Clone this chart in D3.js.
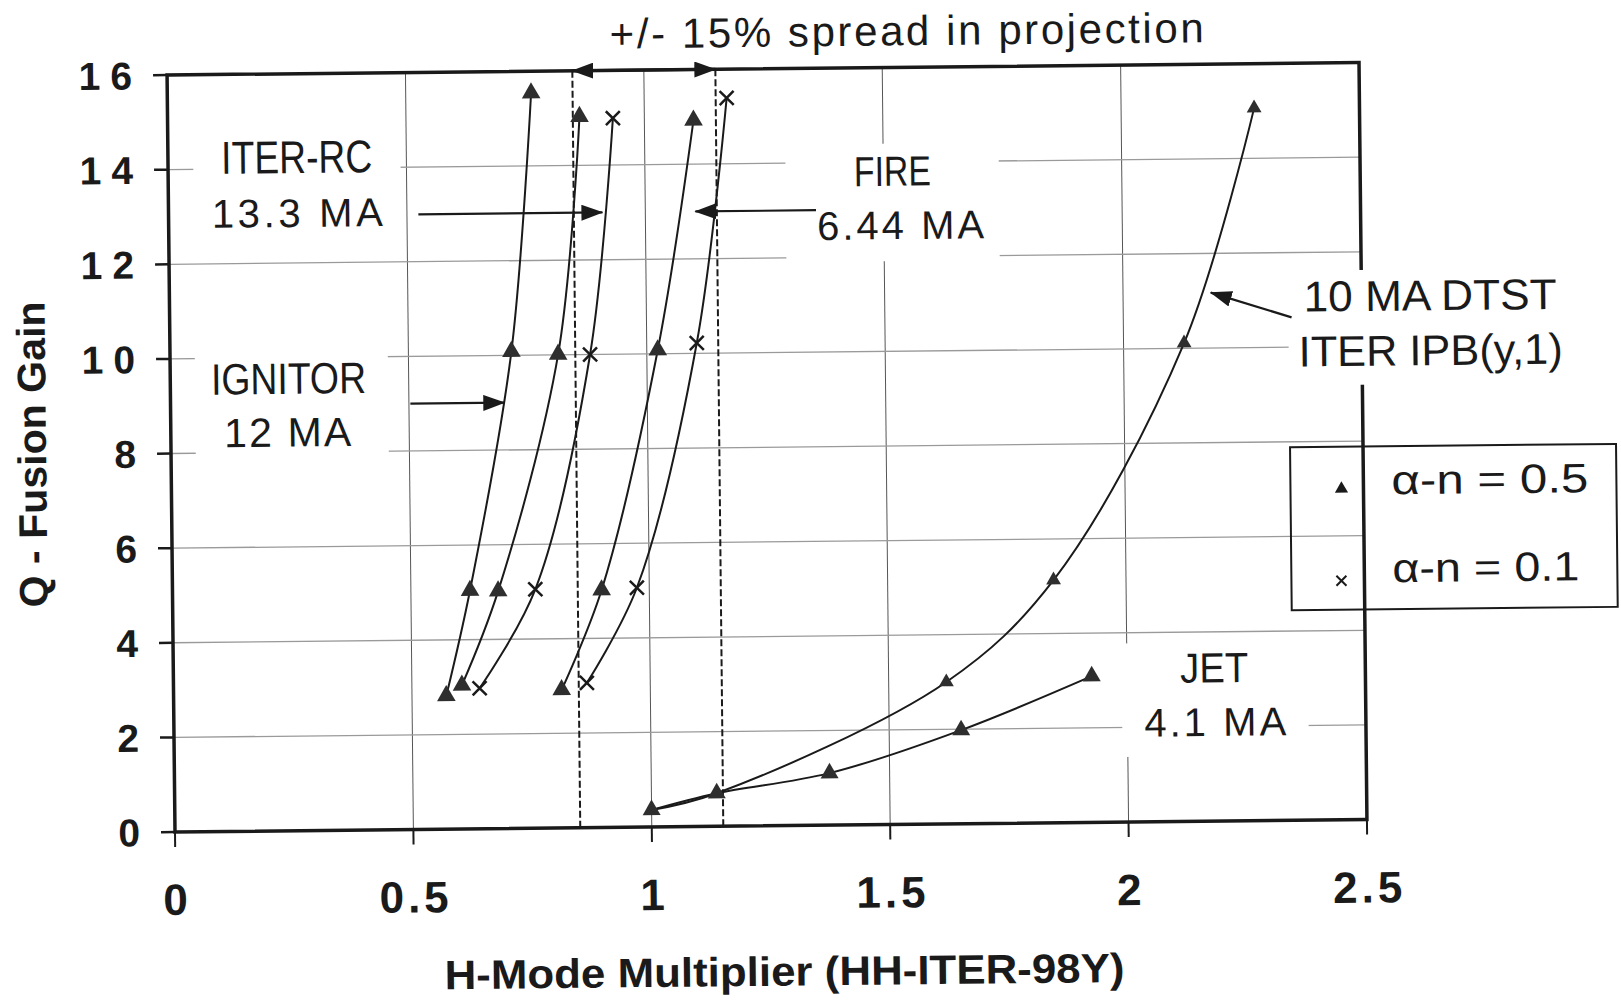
<!DOCTYPE html>
<html><head><meta charset="utf-8">
<script src="https://cdn.jsdelivr.net/npm/d3@7"></script>
<style>
html,body{margin:0;padding:0;background:#fff;}
svg{display:block;}
text{font-family:"Liberation Sans",Arial,Helvetica,sans-serif;fill:#1a1a1a;}
</style></head><body>
<svg id="chart" width="1621" height="1000"></svg>
<script>
// ---------- data ----------
const xTicks = [0, 0.5, 1, 1.5, 2, 2.5];
const xTickLabels = ["0", "0.5", "1", "1.5", "2", "2.5"];
const yTicks = [0, 2, 4, 6, 8, 10, 12, 14, 16];
const yTickLabels = ["0", "2", "4", "6", "8", "10", "12", "14", "16"];

// H-mode multiplier (x) and Q fusion gain (y), per machine and alpha-n
const ignitorH = [0.572, 0.624, 0.716, 0.763];
const ignitorQ = [2.82, 5.04, 10.08, 15.54];
const iterRcH05 = [0.605, 0.683, 0.814, 0.864];
const iterRcQ05 = [3.04, 5.02, 10.01, 15.03];
const iterRcH01 = [0.642, 0.761, 0.881, 0.934];
const iterRcQ01 = [2.97, 5.05, 10.00, 14.99];
const fireH05 = [0.814, 0.900, 1.023, 1.103];
const fireQ05 = [2.92, 5.02, 10.08, 14.93];
const fireH01 = [0.867, 0.974, 1.105, 1.173];
const fireQ01 = [3.06, 5.06, 10.22, 15.39];
const dtstH = [1.0, 1.137, 1.621, 1.848, 2.127, 2.279];
const dtstQ = [0.36, 0.70, 3.00, 5.13, 10.11, 15.06];
const jetH = [1.0, 1.137, 1.374, 1.651, 1.926];
const jetQ = [0.36, 0.70, 1.10, 1.98, 3.09];

const seriesNames = ["IGNITOR a0.5", "ITER-RC a0.5", "ITER-RC a0.1", "FIRE a0.5", "FIRE a0.1", "DTST a0.5", "JET a0.5"];
const seriesH = [ignitorH, iterRcH05, iterRcH01, fireH05, fireH01, dtstH, jetH];
const seriesQ = [ignitorQ, iterRcQ05, iterRcQ01, fireQ05, fireQ01, dtstQ, jetQ];
const seriesMarker = ["tri", "tri", "x", "tri", "x", "tri", "tri"];

// +/- 15% band around HH = 1
const spreadBounds = [0.85, 1.15];

// annotation arrows (data units): from -> tip
const arrowFromH = [0.524, 0.503, 1.358, 2.353];
const arrowFromQ = [13.0, 9.0, 13.0, 10.63];
const arrowToH = [0.910, 0.700, 1.105, 2.184];
const arrowToQ = [13.0, 9.0, 13.0, 11.17];

// annotation labels (data units, centre / baseline)
const labelText = ["ITER-RC", "13.3 MA", "IGNITOR", "12 MA", "FIRE", "6.44 MA", "10 MA DTST", "ITER IPB(y,1)", "JET", "4.1 MA"];
const labelH = [0.270, 0.270, 0.248, 0.245, 1.519, 1.535, 2.644, 2.644, 2.183, 2.184];
const labelQ = [13.90, 12.76, 9.235, 8.12, 13.50, 12.37, 10.75, 9.59, 2.93, 1.80];
const labelGroup = [0, 0, 1, 1, 2, 2, 3, 3, 4, 4];

const legendLabels = ["\u03b1-n = 0.5", "\u03b1-n = 0.1"];
const titleText = "+/- 15% spread in projection";
const xTitle = "H-Mode Multiplier (HH-ITER-98Y)";
const yTitle = "Q - Fusion Gain";

// ---------- layout / style ----------
const x0 = 175, x1 = 1367, yB = 832, yT = 75;
const tilt = -0.6; // the source is a slightly tilted scan
const labelStyle = [
  {size: 46, w: 151, adj: "spacingAndGlyphs"},
  {size: 40, w: 171, adj: "spacing"},
  {size: 44, w: 155, adj: "spacingAndGlyphs"},
  {size: 41, w: 127, adj: "spacing"},
  {size: 42, w: 77, adj: "spacingAndGlyphs"},
  {size: 40, w: 167, adj: "spacing"},
  {size: 43, w: 253, adj: "spacingAndGlyphs"},
  {size: 43, w: 264, adj: "spacingAndGlyphs"},
  {size: 42, w: 68, adj: "spacingAndGlyphs"},
  {size: 40, w: 142, adj: "spacing"}
];
const groupPad = [ // left, right, top, bottom
  [18, 18, 4, 10], [16, 22, 2, 10], [31, 15, 4, 14], [10, 60, 2, 10], [22, 22, 2, 12]
];
const ink = "#1a1a1a";

const svg = d3.select("#chart");
const x = d3.scaleLinear().domain([0, 2.5]).range([x0, x1]);
const y = d3.scaleLinear().domain([0, 16]).range([yB, yT]);

const defs = svg.append("defs");
defs.append("marker").attr("id", "ah").attr("viewBox", "0 0 22 16")
  .attr("refX", 21).attr("refY", 8).attr("markerWidth", 22).attr("markerHeight", 16)
  .attr("markerUnits", "userSpaceOnUse").attr("orient", "auto-start-reverse")
  .append("path").attr("d", "M0,0 L22,8 L0,16 Z").attr("fill", ink);

const g = svg.append("g").attr("transform", `rotate(${tilt},${x0},${yB})`);
const gridL = g.append("g"), frameL = g.append("g"), boxL = g.append("g"),
      textL = g.append("g"), curveL = g.append("g"), markL = g.append("g"),
      annL = g.append("g"), legL = g.append("g");

// gridlines
gridL.selectAll("line.v").data(xTicks.slice(1, -1)).join("line")
  .attr("x1", d => x(d)).attr("x2", d => x(d)).attr("y1", yB).attr("y2", yT)
  .attr("stroke", "#555").attr("stroke-width", 1);
gridL.selectAll("line.h").data(yTicks.slice(1, -1)).join("line")
  .attr("x1", x0).attr("x2", x1).attr("y1", d => y(d)).attr("y2", d => y(d))
  .attr("stroke", "#9a9a9a").attr("stroke-width", 1.3);

// frame and ticks
frameL.append("rect").attr("x", x0).attr("y", yT).attr("width", x1 - x0).attr("height", yB - yT)
  .attr("fill", "none").attr("stroke", ink).attr("stroke-width", 3.5);
frameL.selectAll("line.yt").data(yTicks).join("line")
  .attr("x1", x0 - 14).attr("x2", x0).attr("y1", d => y(d)).attr("y2", d => y(d))
  .attr("stroke", ink).attr("stroke-width", 2.5);
frameL.selectAll("line.xt").data(xTicks).join("line")
  .attr("x1", d => x(d)).attr("x2", d => x(d)).attr("y1", yB).attr("y2", yB + 15)
  .attr("stroke", ink).attr("stroke-width", 2);

// tick labels
frameL.selectAll("text.yl").data(yTicks).join("text")
  .attr("x", x0 - 25).attr("y", d => y(d) + 14).attr("text-anchor", "end")
  .attr("font-size", 39).attr("font-weight", "bold").attr("letter-spacing", "10px")
  .text((d, i) => yTickLabels[i]);
frameL.selectAll("text.xl").data(xTicks).join("text")
  .attr("x", d => x(d) + 2).attr("y", yB + 83).attr("text-anchor", "middle")
  .attr("font-size", 44).attr("font-weight", "bold").attr("letter-spacing", "4px")
  .text((d, i) => xTickLabels[i]);

// axis titles
frameL.append("text").attr("transform", `translate(50,453) rotate(-90)`)
  .attr("text-anchor", "middle").attr("font-size", 40).attr("font-weight", "bold")
  .attr("textLength", 306).attr("lengthAdjust", "spacingAndGlyphs").text(yTitle);
frameL.append("text").attr("x", 783).attr("y", 992).attr("text-anchor", "middle")
  .attr("font-size", 41).attr("font-weight", "bold")
  .attr("textLength", 680).attr("lengthAdjust", "spacingAndGlyphs").text(xTitle);
frameL.append("text").attr("x", 915).attr("y", 53).attr("text-anchor", "middle")
  .attr("font-size", 42).attr("textLength", 594).attr("lengthAdjust", "spacing").text(titleText);

// dashed spread lines
frameL.selectAll("line.sp").data(spreadBounds).join("line")
  .attr("x1", d => x(d)).attr("x2", d => x(d)).attr("y1", yB).attr("y2", yT)
  .attr("stroke", ink).attr("stroke-width", 2).attr("stroke-dasharray", "7,3");
annL.append("line").attr("x1", x(spreadBounds[0])).attr("x2", x(spreadBounds[1]))
  .attr("y1", y(16)).attr("y2", y(16)).attr("stroke", ink).attr("stroke-width", 3)
  .attr("marker-start", "url(#ah)").attr("marker-end", "url(#ah)");

// labels
const labelNodes = [];
labelText.forEach((t, i) => {
  const st = labelStyle[i];
  const node = textL.append("text").attr("x", x(labelH[i])).attr("y", y(labelQ[i]))
    .attr("text-anchor", "middle").attr("font-size", st.size)
    .attr("textLength", st.w).attr("lengthAdjust", st.adj).text(t);
  labelNodes.push(node);
});
// white boxes behind label groups (they interrupt gridlines / frame, as in the source)
d3.range(groupPad.length).forEach(gi => {
  let bx0 = Infinity, by0 = Infinity, bx1 = -Infinity, by1 = -Infinity;
  labelNodes.forEach((n, i) => {
    if (labelGroup[i] !== gi) return;
    const b = n.node().getBBox();
    bx0 = Math.min(bx0, b.x); by0 = Math.min(by0, b.y);
    bx1 = Math.max(bx1, b.x + b.width); by1 = Math.max(by1, b.y + b.height);
  });
  const p = groupPad[gi];
  boxL.append("rect").attr("x", bx0 - p[0]).attr("y", by0 - p[2])
    .attr("width", bx1 - bx0 + p[0] + p[1]).attr("height", by1 - by0 + p[2] + p[3])
    .attr("fill", "#fff");
});

// curves
const line = d3.line().curve(d3.curveCatmullRom.alpha(0.5)).x(d => x(d[0])).y(d => y(d[1]));
seriesH.forEach((hs, si) => {
  const pts = hs.map((h, k) => [h, seriesQ[si][k]]);
  curveL.append("path").attr("d", line(pts)).attr("fill", "none")
    .attr("stroke", ink).attr("stroke-width", 2);
});
// markers
const triSize = [150, 150, 0, 150, 0, 95, 140];
seriesH.forEach((hs, si) => {
  const pts = hs.map((h, k) => [h, seriesQ[si][k]]);
  if (seriesMarker[si] === "tri") {
    markL.selectAll(null).data(pts).join("path")
      .attr("transform", d => `translate(${x(d[0])},${y(d[1])})`)
      .attr("d", d3.symbol(d3.symbolTriangle, triSize[si])()).attr("fill", "#2e2e2e");
  } else {
    markL.selectAll(null).data(pts).join("path")
      .attr("transform", d => `translate(${x(d[0])},${y(d[1])})`)
      .attr("d", "M-7,-7L7,7M-7,7L7,-7").attr("stroke", ink).attr("stroke-width", 2.5);
  }
});

// annotation arrows
arrowFromH.forEach((h, i) => {
  annL.append("line").attr("x1", x(h)).attr("y1", y(arrowFromQ[i]))
    .attr("x2", x(arrowToH[i])).attr("y2", y(arrowToQ[i]))
    .attr("stroke", ink).attr("stroke-width", 2.2).attr("marker-end", "url(#ah)");
});

// legend
const lgX = 1294, lgY = 459, lgW = 326, lgH = 163;
legL.append("rect").attr("x", lgX).attr("y", lgY).attr("width", lgW).attr("height", lgH)
  .attr("fill", "none").attr("stroke", ink).attr("stroke-width", 2);
legL.append("path").attr("transform", `translate(${lgX + 51},${lgY + 42})`)
  .attr("d", d3.symbol(d3.symbolTriangle, 75)()).attr("fill", ink);
legL.append("path").attr("transform", `translate(${lgX + 50},${lgY + 134})`)
  .attr("d", "M-5,-5L5,5M-5,5L5,-5").attr("stroke", ink).attr("stroke-width", 2);
legendLabels.forEach((t, i) => {
  legL.append("text").attr("x", lgX + 101).attr("y", lgY + 48 + i * 88)
    .attr("font-size", 41).attr("textLength", i === 0 ? 197 : 187)
    .attr("lengthAdjust", "spacingAndGlyphs").text(t);
});
</script>
</body></html>
